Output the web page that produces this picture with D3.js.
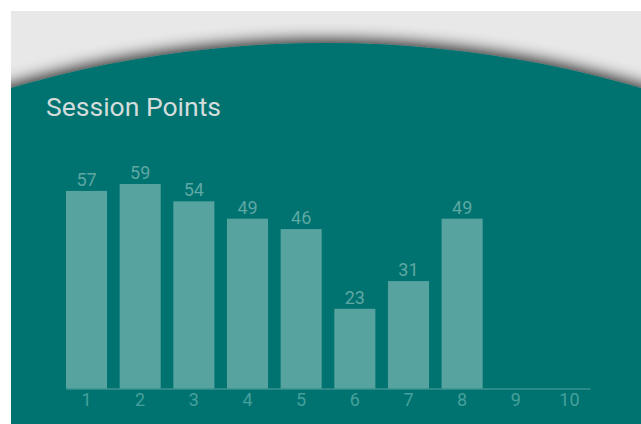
<!DOCTYPE html>
<html><head><meta charset="utf-8">
<script src="https://cdn.jsdelivr.net/npm/d3@7"></script>
<style>
html,body{margin:0;padding:0;background:#fff;}
svg{display:block;}
text{font-family:Roboto, "Noto Sans", sans-serif;}
</style></head>
<body>
<svg id="chart" width="641" height="424"></svg>
<script>
const categories = ["1","2","3","4","5","6","7","8","9","10"];
const values = [57, 59, 54, 49, 46, 23, 31, 49, null, null];
const title = "Session Points";

const svg = d3.select("#chart");
const defs = svg.append("defs");
const f = defs.append("filter").attr("id","sh").attr("x","-20%").attr("y","-50%").attr("width","140%").attr("height","200%");
f.append("feGaussianBlur").attr("in","SourceAlpha").attr("stdDeviation",8).attr("result","b");
f.append("feOffset").attr("in","b").attr("dy",-3).attr("result","o");
f.append("feComponentTransfer").attr("in","o").attr("result","o2")
  .append("feFuncA").attr("type","linear").attr("slope",0.85);
const m = f.append("feMerge");
m.append("feMergeNode").attr("in","o2");
m.append("feMergeNode").attr("in","SourceGraphic");

const clip = defs.append("clipPath").attr("id","panel");
clip.append("rect").attr("x",11).attr("y",11).attr("width",630).attr("height",413);

svg.append("rect").attr("x",11).attr("y",11).attr("width",630).attr("height",413).attr("fill","#e8e8e8");
svg.append("g").attr("clip-path","url(#panel)")
  .append("circle").attr("cx",326).attr("cy",43+1125).attr("r",1125)
  .attr("fill","#00736f").attr("filter","url(#sh)");

svg.append("text").attr("x",46).attr("y",115.5).attr("font-size",26.5)
  .attr("fill","#d4dcdc").text(title);

const x = d3.scaleBand().domain(categories).range([66,590]).paddingInner(0.235).paddingOuter(0);
const y = d3.scaleLinear().domain([0,59]).range([388.5,184]);

const data = categories.map((c,i)=>({c, v: values[i]})).filter(d=>d.v!=null);

svg.append("g").selectAll("rect").data(data).join("rect")
  .attr("x",d=>x(d.c)).attr("width",x.bandwidth())
  .attr("y",d=>y(d.v)).attr("height",d=>y(0)-y(d.v))
  .attr("fill","#57a3a0");

svg.append("g").selectAll("text").data(data).join("text")
  .attr("x",d=>x(d.c)+x.bandwidth()/2).attr("y",d=>y(d.v)-5)
  .attr("text-anchor","middle").attr("font-size",18).attr("fill","#5ea7a3")
  .text(d=>d.v);

const ax = svg.append("g").attr("transform","translate(0,388.5)")
  .call(d3.axisBottom(x).tickSize(0).tickPadding(5));
ax.select(".domain").attr("stroke","#57a3a0").attr("stroke-width",1);
ax.selectAll("text").attr("font-size",18).attr("fill","#46a09b")
  .attr("font-family","Roboto, 'Noto Sans', sans-serif");
</script>
</body></html>
